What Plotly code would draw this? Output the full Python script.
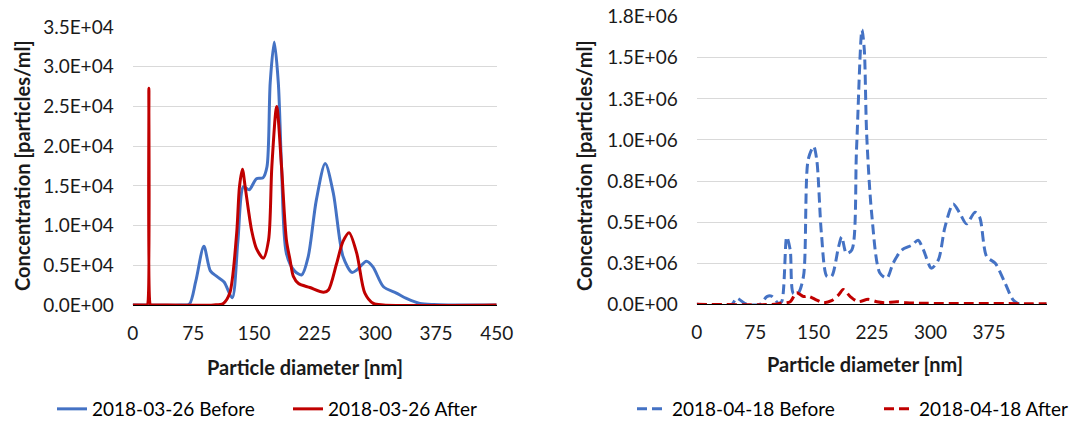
import plotly.graph_objects as go

# ---- Data: left chart (2018-03-26) ----
x_0326_before = [0, 60, 70, 78, 88, 96, 104, 113, 123, 130, 137, 144, 153, 161, 166, 170, 175, 180, 184, 190,
                 200, 209, 217, 227, 238, 248, 260, 271, 277, 289, 297, 310, 326, 339, 355, 372, 390, 450]
y_0326_before = [0, 0, 100, 3000, 7400, 4300, 3600, 2900, 900, 8000, 14900, 14500, 15900, 16000, 17400, 28000, 33100, 28000, 17400, 6500,
                 4300, 3800, 6100, 13200, 17800, 14100, 6100, 4100, 4400, 5500, 4800, 2300, 1500, 800, 200, 50, 0, 0]

x_0326_after = [0, 10, 17, 18, 20, 22, 23, 30, 100, 112, 120, 128.5, 132, 135.6, 139, 143, 147, 153, 161.5, 168, 172, 178, 184, 190, 194.5,
                198.6, 205, 219, 236, 242, 252, 260, 267.5, 277, 287, 297.5, 310, 450]
y_0326_after = [0, 0, 0, 0, 27300, 0, 0, 0, 0, 200, 1500, 9000, 14900, 17100, 14900, 12000, 9400, 7100, 5900, 8200, 17400, 25000, 17400, 8200, 5700,
                3600, 2700, 2200, 1600, 1900, 5200, 8000, 9100, 6500, 1500, 200, 0, 0]

# ---- Data: right chart (2018-04-18) ----
x_0418_before = [0, 45, 51, 64, 81, 90, 96, 105, 109, 115.5, 120, 124, 130, 137, 143, 150, 154, 160, 167, 173, 182, 186,
                 192, 199, 205, 212, 215, 218, 224.5, 235, 244, 252, 263, 276, 284, 291, 301, 310, 318.5, 329, 338, 346,
                 357, 363, 372, 383, 395.5, 406, 415, 449]
y_0418_before = [0, 0, 37000, 0, 0, 47000, 50000, 6000, 16000, 410000, 330000, 67000, 67000, 170000, 880000, 960000, 880000,
                 430000, 170000, 170000, 350000, 410000, 310000, 330000, 940000, 1670000, 1550000, 1040000, 550000, 190000,
                 160000, 250000, 330000, 360000, 390000, 330000, 220000, 270000, 470000, 610000, 550000, 490000, 560000,
                 530000, 290000, 250000, 130000, 26000, 0, 0]

x_0418_after = [0, 100, 107, 120, 128, 137, 143, 154, 162.5, 173, 182, 188, 197, 207, 220, 231, 241.5, 256.5, 269, 295, 449]
y_0418_after = [0, 0, 6000, 16000, 70000, 47000, 50000, 26000, 10000, 22000, 57000, 90000, 47000, 16000, 30000, 16000,
                10000, 16000, 10000, 6000, 4000]

# ---- Tick labels ----
left_yvals = [0, 5000, 10000, 15000, 20000, 25000, 30000, 35000]
left_ytext = ["0.0E+00", "0.5E+04", "1.0E+04", "1.5E+04", "2.0E+04", "2.5E+04", "3.0E+04", "3.5E+04"]
right_yvals = [0, 250000, 500000, 750000, 1000000, 1250000, 1500000, 1750000]
right_ytext = ["0.0E+00", "0.3E+06", "0.5E+06", "0.8E+06", "1.0E+06", "1.3E+06", "1.5E+06", "1.8E+06"]
left_xvals = [0, 75, 150, 225, 300, 375, 450]
right_xvals = [0, 75, 150, 225, 300, 375]

BLUE = "#4472C4"
RED = "#C00000"
FONT = "Lato"
TXT = "#1a1a1a"
DASH = "10px,5px"

fig = go.Figure()
fig.add_trace(go.Scatter(x=x_0326_before, y=y_0326_before, mode="lines", name="2018-03-26 Before",
                         line=dict(color=BLUE, width=3, shape="spline", smoothing=0.8),
                         xaxis="x", yaxis="y", legend="legend"))
fig.add_trace(go.Scatter(x=x_0326_after, y=y_0326_after, mode="lines", name="2018-03-26 After",
                         line=dict(color=RED, width=3, shape="spline", smoothing=0.8),
                         xaxis="x", yaxis="y", legend="legend"))
fig.add_trace(go.Scatter(x=x_0418_before, y=y_0418_before, mode="lines", name="2018-04-18 Before",
                         line=dict(color=BLUE, width=3, dash=DASH, shape="spline", smoothing=0.8),
                         xaxis="x2", yaxis="y2", legend="legend2"))
fig.add_trace(go.Scatter(x=x_0418_after, y=y_0418_after, mode="lines", name="2018-04-18 After",
                         line=dict(color=RED, width=3, dash=DASH, shape="spline", smoothing=0.8),
                         xaxis="x2", yaxis="y2", legend="legend2"))

W, H = 1070, 421
def px(v):
    return v / W
def py(v):
    return (H - v) / H

TICKFONT = dict(family=FONT, size=19, color=TXT)
yaxis_common = dict(showgrid=True, gridcolor="#D9D9D9", gridwidth=1, zeroline=False, automargin=False,
                    tickfont=TICKFONT, ticks="", showline=False, ticklabelstandoff=18)
xaxis_common = dict(showgrid=False, zeroline=False, showline=True, linecolor="black", linewidth=1,
                    automargin=False, tickfont=TICKFONT, ticks="", ticklabelstandoff=11)

fig.update_layout(
    width=W, height=H,
    margin=dict(l=0, r=0, t=0, b=0, autoexpand=False),
    paper_bgcolor="white", plot_bgcolor="white",
    font=dict(family=FONT, color=TXT),
    xaxis=dict(domain=[px(132.7), px(496.7)], range=[0, 450], tickvals=left_xvals, anchor="y", **xaxis_common),
    yaxis=dict(domain=[py(305), py(27)], range=[0, 35000], tickvals=left_yvals, ticktext=left_ytext,
               anchor="x", **yaxis_common),
    xaxis2=dict(domain=[px(696.7), px(1046.7)], range=[0, 449], tickvals=right_xvals, anchor="y2", **xaxis_common),
    yaxis2=dict(domain=[py(304.3), py(16.7)], range=[0, 1750000], tickvals=right_yvals, ticktext=right_ytext,
                anchor="x2", **yaxis_common),
    legend=dict(orientation="h", x=px(52), y=py(409), xanchor="left", yanchor="middle", entrywidth=191,
                font=dict(family=FONT, size=19, color="black"), bgcolor="rgba(0,0,0,0)"),
    legend2=dict(orientation="h", x=px(632), y=py(409), xanchor="left", yanchor="middle", entrywidth=202,
                 font=dict(family=FONT, size=19, color="black"), bgcolor="rgba(0,0,0,0)"),
    showlegend=True,
)

ann_font = dict(family=FONT, size=20, color=TXT, weight="bold")
fig.add_annotation(text="Concentration [particles/ml]", x=px(22), y=py(166), xref="paper", yref="paper",
                   showarrow=False, textangle=-90, font=ann_font, xanchor="center", yanchor="middle")
fig.add_annotation(text="Concentration [particles/ml]", x=px(584), y=py(166), xref="paper", yref="paper",
                   showarrow=False, textangle=-90, font=ann_font, xanchor="center", yanchor="middle")
fig.add_annotation(text="Particle diameter [nm]", x=px(305), y=py(367), xref="paper", yref="paper",
                   showarrow=False, font=ann_font, xanchor="center", yanchor="middle")
fig.add_annotation(text="Particle diameter [nm]", x=px(865), y=py(364), xref="paper", yref="paper",
                   showarrow=False, font=ann_font, xanchor="center", yanchor="middle")

fig.write_html("out.html", config={"displayModeBar": False},
               post_script="document.body.style.margin='0';document.body.style.overflow='hidden';")
